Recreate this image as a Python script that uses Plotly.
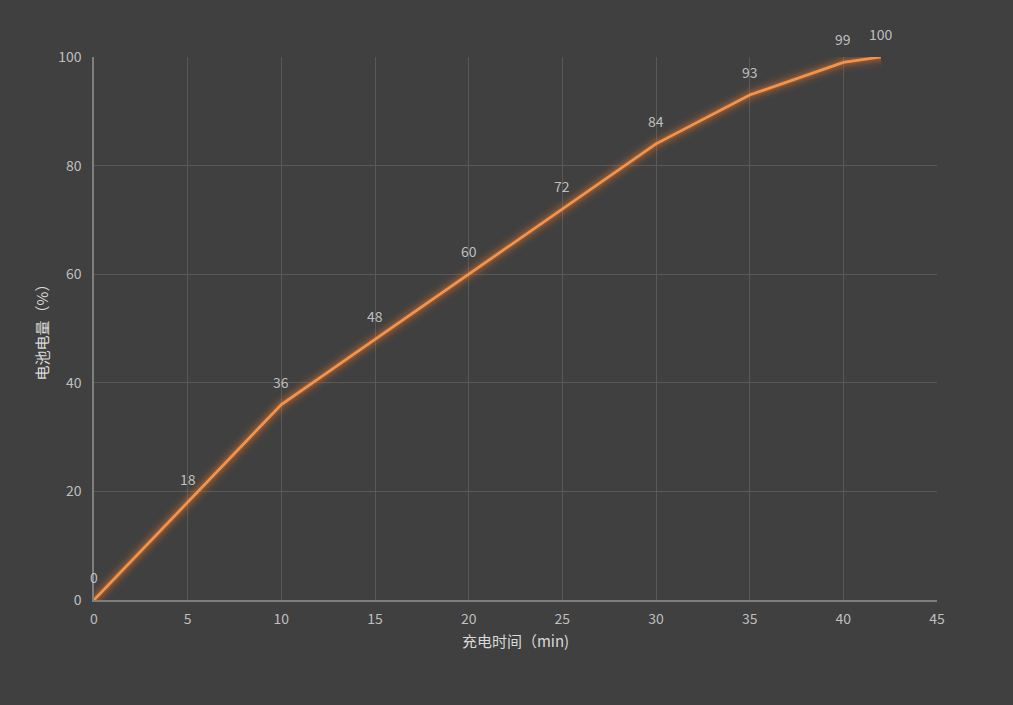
import plotly.graph_objects as go

time_min = [0, 5, 10, 15, 20, 25, 30, 35, 40, 42]
battery_pct = [0, 18, 36, 48, 60, 72, 84, 93, 99, 100]
x_ticks = [0, 5, 10, 15, 20, 25, 30, 35, 40, 45]
y_ticks = [0, 20, 40, 60, 80, 100]

FONT = "Noto Sans CJK SC, Noto Sans, sans-serif"
fig = go.Figure()

# glow layers
for w, a in [(20, 0.05), (14, 0.08), (10, 0.12), (6, 0.2)]:
    fig.add_trace(go.Scatter(x=time_min, y=battery_pct, mode="lines",
                             line=dict(color=f"rgba(237,125,49,{a})", width=w),
                             hoverinfo="skip", showlegend=False))

fig.add_trace(go.Scatter(
    x=time_min, y=battery_pct, mode="lines",
    line=dict(color="#f4934a", width=2.75),
    showlegend=False))

for xv, yv in zip(time_min, battery_pct):
    fig.add_annotation(x=xv, y=yv, text=str(yv), showarrow=False, yshift=23,
                       font=dict(color="#bfbfbf", size=14, family=FONT))

fig.update_layout(
    width=1013, height=705,
    paper_bgcolor="#404040", plot_bgcolor="#404040",
    margin=dict(l=94, r=76, t=57, b=105),
    font=dict(family=FONT, color="#bfbfbf", size=14),
)
fig.update_xaxes(range=[0, 45], tickvals=x_ticks, showgrid=True, gridcolor="#595959",
                 gridwidth=1, showline=True, linecolor="#7f7f7f", linewidth=1.5,
                 zeroline=False, ticks="", ticklabelstandoff=5,
                 tickfont=dict(size=14, color="#bfbfbf"),
                 title=dict(text="充电时间（min)", font=dict(size=15, color="#d9d9d9"), standoff=10))
fig.update_yaxes(range=[0, 100], tickvals=y_ticks, showgrid=True, gridcolor="#595959",
                 gridwidth=1, showline=True, linecolor="#7f7f7f", linewidth=1.5,
                 zeroline=False, ticks="", ticklabelstandoff=8,
                 tickfont=dict(size=14, color="#bfbfbf"),
                 title=dict(text="电池电量（%）", font=dict(size=15, color="#d9d9d9"), standoff=6))

fig.write_html("out.html", config={"displayModeBar": False},
               post_script="document.body.style.margin='0';document.body.style.background='#404040';")
